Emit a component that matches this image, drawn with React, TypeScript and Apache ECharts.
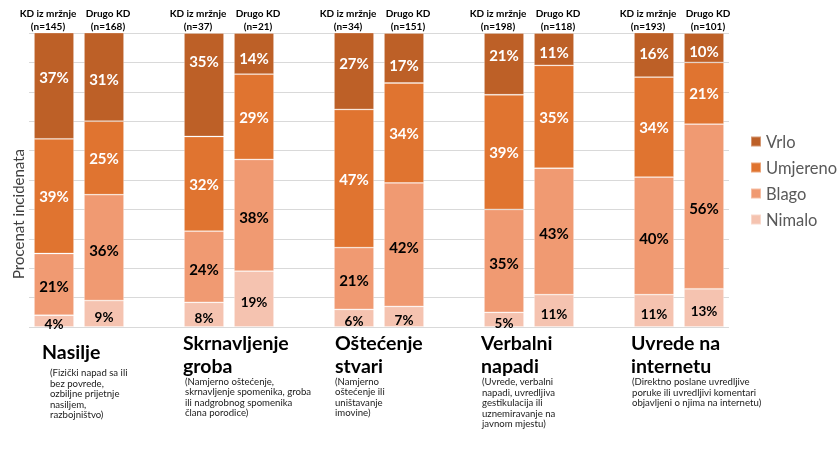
import React, { useEffect, useRef } from 'react';
import * as echarts from 'echarts';

// ---- Data ----
const kdN = [145, 37, 34, 198, 193];
const drugoN = [168, 21, 151, 118, 101];

const vrloKD = [37, 35.2, 27, 21, 16];
const vrloDrugo = [31, 14, 17, 11, 10];
const umjerenoKD = [39, 32.2, 47, 39, 34];
const umjerenoDrugo = [25, 29, 34, 35, 21];
const blagoKD = [21, 24.2, 21, 35, 40];
const blagoDrugo = [36, 38, 42, 43, 56];
const nimaloKD = [4, 8.4, 6, 5, 11];
const nimaloDrugo = [9, 19, 7, 11, 13];

const groupTitles = ['Nasilje', 'Skrnavljenje\ngroba', 'Oštećenje\nstvari', 'Verbalni\nnapadi', 'Uvrede na\ninternetu'];
const groupDescriptions = [
  '(Fizički napad sa ili\nbez povrede,\nozbiljne prijetnje\nnasiljem,\nrazbojništvo)',
  '(Namjerno oštećenje,\nskrnavljenje spomenika, groba\nili nadgrobnog spomenika\nčlana porodice)',
  '(Namjerno\noštećenje ili\nuništavanje\nimovine)',
  '(Uvrede, verbalni\nnapadi, uvredljiva\ngestikulacija ili\nuznemiravanje na\njavnom mjestu)',
  '(Direktno poslane uvredljive\nporuke ili uvredljivi komentari\nobjavljeni o njima na internetu)',
];
const yAxisName = 'Procenat incidenata';
const legendOrder = ['Vrlo', 'Umjereno', 'Blago', 'Nimalo'];

// ---- Styling ----
const FONT = 'Lato, "Open Sans", sans-serif';
const colors: Record<string, string> = {
  Vrlo: '#BD6027',
  Umjereno: '#E07430',
  Blago: '#F09A72',
  Nimalo: '#F5C3B0',
};
// vertical nudges of the "Vrlo" labels (KD, Drugo per group), as placed in the reference
const vrloLabelShiftKD = [-9, -24, -8, -9, -2];
const vrloLabelShiftDrugo = [2, 4, 7, 3, 3];

// layout of bottom annotation texts
const titleX = [42, 183, 335, 481, 631];
const titleTop = [339.5, 331, 331, 331, 331];
const descX = [50, 185, 335, 482, 632];
const descTop = [367.5, 376, 376, 376.5, 376.5];

function interleave(kd: number[], dr: number[]) {
  const out: (number | null)[] = [];
  for (let i = 0; i < kd.length; i++) {
    out.push(kd[i], dr[i]);
    if (i < kd.length - 1) out.push(null);
  }
  return out;
}

const categories: string[] = [];
for (let i = 0; i < kdN.length; i++) {
  categories.push(`KD iz mržnje\n(n=${kdN[i]})`, `Drugo KD\n(n=${drugoN[i]})`);
  if (i < kdN.length - 1) categories.push(' '.repeat(i + 1));
}

const vrloShift = interleave(vrloLabelShiftKD, vrloLabelShiftDrugo);

const seriesDefs = [
  { name: 'Nimalo', data: interleave(nimaloKD, nimaloDrugo), labelColor: '#000', weight: 'bold', size: 13.5, dy: 3 },
  { name: 'Blago', data: interleave(blagoKD, blagoDrugo), labelColor: '#000', weight: 'bold', size: 15, dy: 2 },
  { name: 'Umjereno', data: interleave(umjerenoKD, umjerenoDrugo), labelColor: '#fff', weight: 'bold', size: 15, dy: 0 },
  { name: 'Vrlo', data: interleave(vrloKD, vrloDrugo), labelColor: '#fff', weight: 'bold', size: 15, dy: 0 },
];

export default function App() {
  const ref = useRef<HTMLDivElement>(null);
  useEffect(() => {
    if (!ref.current) return;
    const chart = echarts.init(ref.current, null, { renderer: 'svg' });
    const graphics: any[] = [
      {
        type: 'text',
        x: 18,
        y: 214,
        rotation: Math.PI / 2,
        style: {
          text: yAxisName,
          fontFamily: FONT,
          fontSize: 15,
          fill: '#404040',
          align: 'center',
          verticalAlign: 'middle',
        },
      },
    ];
    groupTitles.forEach((t, i) => {
      graphics.push({
        type: 'text',
        x: titleX[i],
        y: titleTop[i],
        style: {
          text: t,
          fontFamily: FONT,
          fontSize: 19.5,
          fontWeight: 'bold',
          lineHeight: 23,
          fill: '#000',
          verticalAlign: 'top',
        },
      });
      graphics.push({
        type: 'text',
        x: descX[i],
        y: descTop[i],
        style: {
          text: groupDescriptions[i],
          fontFamily: FONT,
          fontSize: 9.6,
          lineHeight: 10.5,
          fill: '#1a1a1a',
          verticalAlign: 'top',
        },
      });
    });

    chart.setOption({
      animation: false,
      textStyle: { fontFamily: FONT },
      grid: { left: 29, right: 109, top: 33, bottom: 123 },
      legend: {
        data: legendOrder,
        orient: 'vertical',
        left: 745,
        top: 128,
        itemWidth: 10,
        itemHeight: 10,
        itemGap: 9,
        icon: 'rect',
        textStyle: { fontSize: 16.5, color: '#595959', fontFamily: FONT },
      },
      xAxis: {
        type: 'category',
        position: 'top',
        data: categories,
        axisLine: { show: false },
        axisTick: { show: false },
        axisLabel: {
          interval: 0,
          margin: 1,
          formatter: (value: string, index: number) => {
            const lines = value.split('\n');
            if (index % 3 === 0) return lines.map((l) => `{k|${l}}`).join('\n');
            if (index % 3 === 1) return lines.map((l) => `{d|${l}}`).join('\n');
            return '';
          },
          rich: {
            k: { fontFamily: FONT, fontSize: 10, fontWeight: 'bold', color: '#000', lineHeight: 12.5, padding: [0, 12, 0, 0] },
            d: { fontFamily: FONT, fontSize: 10, fontWeight: 'bold', color: '#000', lineHeight: 12.5, padding: [0, 0, 0, 8] },
          },
        },
      },
      yAxis: {
        type: 'value',
        min: 0,
        max: 100,
        interval: 10,
        axisLabel: { show: false },
        axisLine: { show: false },
        axisTick: { show: false },
        splitLine: { lineStyle: { color: '#D9D9D9', width: 1 } },
      },
      series: seriesDefs.map((s) => ({
        name: s.name,
        type: 'bar',
        stack: 'total',
        barWidth: 40,
        clip: true,
        data: s.data.map((v, idx) =>
          s.name === 'Vrlo' && v != null
            ? { value: v, label: { offset: [0, vrloShift[idx] as number] } }
            : v
        ),
        itemStyle: { color: colors[s.name], borderColor: 'rgba(255,255,255,0.35)', borderWidth: 0.8 },
        label: {
          show: true,
          position: 'inside',
          offset: [0, s.dy],
          fontFamily: FONT,
          fontSize: s.size,
          fontWeight: s.weight,
          color: s.labelColor,
          formatter: (p: any) => (p.value == null ? '' : `${Math.round(p.value)}%`),
        },
      })),
      graphic: graphics,
    });
    return () => chart.dispose();
  }, []);
  return <div ref={ref} style={{ position: 'fixed', left: 0, top: 0, width: 838, height: 450 }} />;
}
